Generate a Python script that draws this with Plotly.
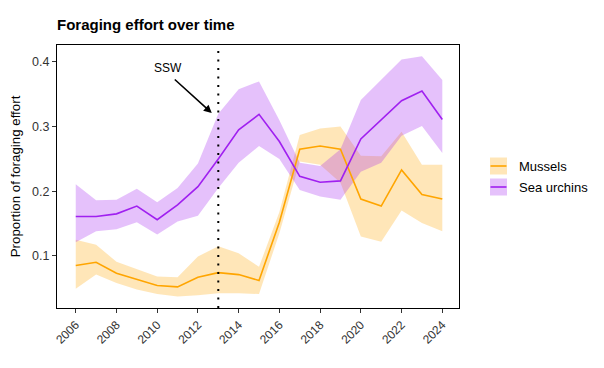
import plotly.graph_objects as go

years = list(range(2006, 2025))

mussels_mean = [0.085, 0.090, 0.073, 0.063, 0.054, 0.052, 0.067, 0.074, 0.071, 0.062,
                0.152, 0.265, 0.270, 0.265, 0.188, 0.177, 0.233, 0.195, 0.188]
mussels_low = [0.049, 0.071, 0.058, 0.048, 0.041, 0.037, 0.039, 0.042, 0.042, 0.041,
               0.135, 0.246, 0.241, 0.213, 0.130, 0.122, 0.170, 0.151, 0.138]
mussels_high = [0.125, 0.117, 0.091, 0.079, 0.068, 0.067, 0.099, 0.115, 0.104, 0.083,
                0.168, 0.287, 0.297, 0.300, 0.255, 0.254, 0.292, 0.241, 0.241]

urchin_mean = [0.161, 0.161, 0.165, 0.177, 0.156, 0.179, 0.207, 0.250, 0.295, 0.319,
               0.277, 0.223, 0.214, 0.216, 0.281, 0.310, 0.340, 0.355, 0.311]
urchin_low = [0.121, 0.138, 0.141, 0.152, 0.133, 0.153, 0.162, 0.205, 0.244, 0.270,
              0.250, 0.202, 0.192, 0.187, 0.230, 0.244, 0.286, 0.301, 0.259]
urchin_high = [0.211, 0.186, 0.187, 0.204, 0.183, 0.205, 0.243, 0.320, 0.358, 0.370,
               0.310, 0.244, 0.239, 0.265, 0.341, 0.372, 0.404, 0.409, 0.372]

series_names = ["Mussels", "Sea urchins"]
x_ticks = list(range(2006, 2025, 2))
y_ticks = [0.1, 0.2, 0.3, 0.4]
event_year = 2013
event_label = "SSW"

line_colors = ["#FFA500", "#A020F0"]
fill_colors = ["rgba(255,165,0,0.28)", "rgba(160,32,240,0.28)"]

FONT = "Liberation Sans, Arial, sans-serif"

W, H = 596, 360
L, R, T, B = 49, 145, 37, 60
PW, PH = W - L - R, H - T - B

fig = go.Figure()
data = [(mussels_mean, mussels_low, mussels_high), (urchin_mean, urchin_low, urchin_high)]

# ribbons
for i, (m, lo, hi) in enumerate(data):
    fig.add_trace(go.Scatter(x=years, y=hi, mode="lines", line=dict(width=0),
                             showlegend=False, hoverinfo="skip"))
    fig.add_trace(go.Scatter(x=years, y=lo, mode="lines", line=dict(width=0),
                             fill="tonexty", fillcolor=fill_colors[i],
                             showlegend=False, hoverinfo="skip"))
# lines
for i, (m, lo, hi) in enumerate(data):
    fig.add_trace(go.Scatter(x=years, y=m, mode="lines", name=series_names[i],
                             line=dict(color=line_colors[i], width=1.6),
                             showlegend=False))

fig.add_shape(type="line", x0=event_year, x1=event_year, xref="x", yref="paper",
              y0=0, y1=1, line=dict(color="black", width=2, dash="2px,6.5px"))

fig.add_annotation(x=2012.68, y=0.321, ax=2010.79, ay=0.375, xref="x", yref="y",
                   axref="x", ayref="y", text="", showarrow=True, arrowhead=2,
                   arrowsize=1, arrowwidth=1.6, arrowcolor="black")
fig.add_annotation(x=2010.53, y=0.391, xref="x", yref="y", text=event_label,
                   showarrow=False, font=dict(family=FONT, size=12, color="black"))

# legend (ggplot-style keys: filled square with line through the middle)
def px_x(fx):
    return (fx - L) / PW

def px_y(fy):
    return (H - B - fy) / PH

key_x0, key_x1, text_x = 482, 499, 509
key_centers = [158, 179]
for i, name in enumerate(series_names):
    cy = key_centers[i]
    fig.add_shape(type="rect", xref="paper", yref="paper",
                  x0=px_x(key_x0), x1=px_x(key_x1), y0=px_y(cy + 8.5), y1=px_y(cy - 8.5),
                  line=dict(width=0), fillcolor=fill_colors[i])
    fig.add_shape(type="line", xref="paper", yref="paper",
                  x0=px_x(key_x0 + 0.5), x1=px_x(key_x1 - 0.5), y0=px_y(cy), y1=px_y(cy),
                  line=dict(color=line_colors[i], width=1.6))
    fig.add_annotation(xref="paper", yref="paper", x=px_x(text_x), y=px_y(cy),
                       xanchor="left", yanchor="middle", text=name, showarrow=False,
                       font=dict(family=FONT, size=13, color="black"))

fig.update_layout(
    width=W, height=H,
    margin=dict(l=L, r=R, t=T, b=B, autoexpand=False),
    plot_bgcolor="white", paper_bgcolor="white",
    title=dict(text="<b>Foraging effort over time</b>", x=L / W, xanchor="left",
               y=1 - 17 / H, yanchor="middle",
               font=dict(family=FONT, size=15, color="black")),
    font=dict(family=FONT, color="black"),
    showlegend=False,
)
fig.update_xaxes(range=[2005.08, 2024.82], tickvals=x_ticks, automargin=False,
                 ticktext=[str(t) for t in x_ticks], tickangle=-45,
                 ticks="outside", ticklen=4, tickcolor="#333", showgrid=False,
                 zeroline=False, showline=True, linecolor="black", linewidth=1.2,
                 mirror=True, tickfont=dict(family=FONT, size=12, color="#333"))
fig.update_yaxes(range=[0.0193, 0.4263], tickvals=y_ticks, automargin=False,
                 ticktext=[f"{t:.1f}" for t in y_ticks],
                 ticks="outside", ticklen=4, tickcolor="#333", showgrid=False,
                 zeroline=False, showline=True, linecolor="black", linewidth=1.2,
                 mirror=True, tickfont=dict(family=FONT, size=12.5, color="#333"),
                 title=dict(text="Proportion of foraging effort", standoff=8,
                            font=dict(family=FONT, size=13.3, color="black")))

fig.write_html("out.html")
